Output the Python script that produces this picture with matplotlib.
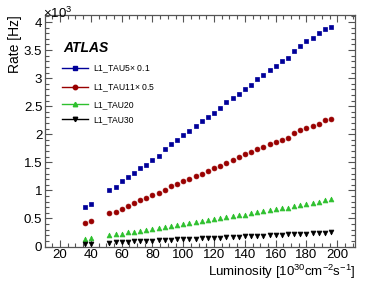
import matplotlib
matplotlib.use("Agg")
import matplotlib.pyplot as plt
from matplotlib.ticker import MultipleLocator, FuncFormatter
from matplotlib.lines import Line2D

plt.rcParams['font.family'] = ['Liberation Sans', 'DejaVu Sans']
plt.rcParams['mathtext.fontset'] = 'custom'
plt.rcParams['mathtext.rm'] = 'Liberation Sans'

lumi = [36, 40, 52, 56, 60, 64, 68, 72, 76, 80, 84, 88, 92, 96, 100, 104, 108, 112,
        116, 120, 124, 128, 132, 136, 140, 144, 148, 152, 156, 160, 164, 168, 172,
        176, 180, 184, 188, 192, 196]

tau5 = [0.70, 0.76, 1.00, 1.06, 1.16, 1.24, 1.31, 1.39, 1.46, 1.54, 1.61, 1.74, 1.82,
        1.90, 1.98, 2.06, 2.14, 2.24, 2.30, 2.38, 2.46, 2.57, 2.65, 2.71, 2.80, 2.875,
        2.98, 3.05, 3.14, 3.21, 3.30, 3.35, 3.49, 3.57, 3.67, 3.71, 3.80, 3.88, 3.92]

tau11 = [0.42, 0.45, 0.59, 0.62, 0.67, 0.73, 0.77, 0.82, 0.86, 0.91, 0.95, 1.01, 1.07,
         1.11, 1.16, 1.21, 1.25, 1.30, 1.34, 1.40, 1.44, 1.49, 1.54, 1.59, 1.64, 1.68,
         1.73, 1.78, 1.82, 1.86, 1.90, 1.94, 2.02, 2.07, 2.11, 2.14, 2.19, 2.25, 2.28]

tau20 = [0.14, 0.15, 0.20, 0.215, 0.23, 0.25, 0.26, 0.28, 0.29, 0.31, 0.33, 0.35, 0.36,
         0.38, 0.40, 0.42, 0.43, 0.45, 0.47, 0.49, 0.50, 0.52, 0.54, 0.56, 0.57, 0.59,
         0.61, 0.63, 0.65, 0.66, 0.68, 0.69, 0.72, 0.74, 0.75, 0.77, 0.79, 0.82, 0.84]

tau30 = [0.05, 0.05, 0.07, 0.075, 0.08, 0.085, 0.09, 0.095, 0.10, 0.105, 0.11, 0.115,
         0.12, 0.125, 0.13, 0.135, 0.14, 0.145, 0.15, 0.155, 0.16, 0.165, 0.17, 0.175,
         0.18, 0.185, 0.19, 0.195, 0.20, 0.205, 0.21, 0.215, 0.22, 0.225, 0.23, 0.235,
         0.24, 0.245, 0.25]

labels = ['L1_TAU5$\\times$ 0.1', 'L1_TAU11$\\times$ 0.5', 'L1_TAU20', 'L1_TAU30']
colors = ['#000099', '#990000', '#2ec02e', '#000000']
markers = ['s', 'o', '^', 'v']
series = [tau5, tau11, tau20, tau30]

fig = plt.figure(figsize=(3.74, 2.94), dpi=100)
ax = fig.add_axes([45/374, 1 - 246.5/294, 310/374, 231.5/294])

for vals, c, m in zip(series, colors, markers):
    ax.plot(lumi, vals, linestyle='none', marker=m, color=c, markersize=3.5,
            markeredgewidth=0.5, markeredgecolor=c)

ax.set_xlim(10.2, 211.5)
ax.set_ylim(0, 4.125)
ax.xaxis.set_major_locator(MultipleLocator(20))
ax.xaxis.set_minor_locator(MultipleLocator(5))
ax.yaxis.set_major_locator(MultipleLocator(0.5))
ax.yaxis.set_minor_locator(MultipleLocator(0.1))
ax.yaxis.set_major_formatter(FuncFormatter(lambda v, p: '%g' % v))
ax.tick_params(which='both', direction='in', top=True, right=True, labelsize=9.5,
               color='#555555', width=0.8)
ax.tick_params(which='major', length=5, pad=2)
ax.tick_params(which='minor', length=2.6)
for s in ax.spines.values():
    s.set_color('#555555')
    s.set_linewidth(0.9)

ax.set_xlabel('Luminosity [10$^{30}$cm$^{-2}$s$^{-1}$]', fontsize=9.5, loc='right', labelpad=1)
ax.set_ylabel('Rate [Hz]', fontsize=10, loc='top', labelpad=1)
ax.text(-0.005, 0.975, '$\\times$10$^{3}$', transform=ax.transAxes, fontsize=9.5,
        ha='left', va='bottom')

ax.text(63/374, 1 - 48/294, 'ATLAS', transform=fig.transFigure, fontsize=10,
        fontweight='bold', fontstyle='italic', ha='left', va='center')

handles = [Line2D([0], [0], color=c, marker=m, markersize=3.2, linewidth=1.0)
           for c, m in zip(colors, markers)]
leg = ax.legend(handles, labels, loc='upper left', bbox_to_anchor=(0.055, 0.797),
                frameon=False, fontsize=6.2, handlelength=3.0, handletextpad=0.6,
                labelspacing=0.74, borderaxespad=0, borderpad=0)

fig.savefig('out.png', dpi=100)
